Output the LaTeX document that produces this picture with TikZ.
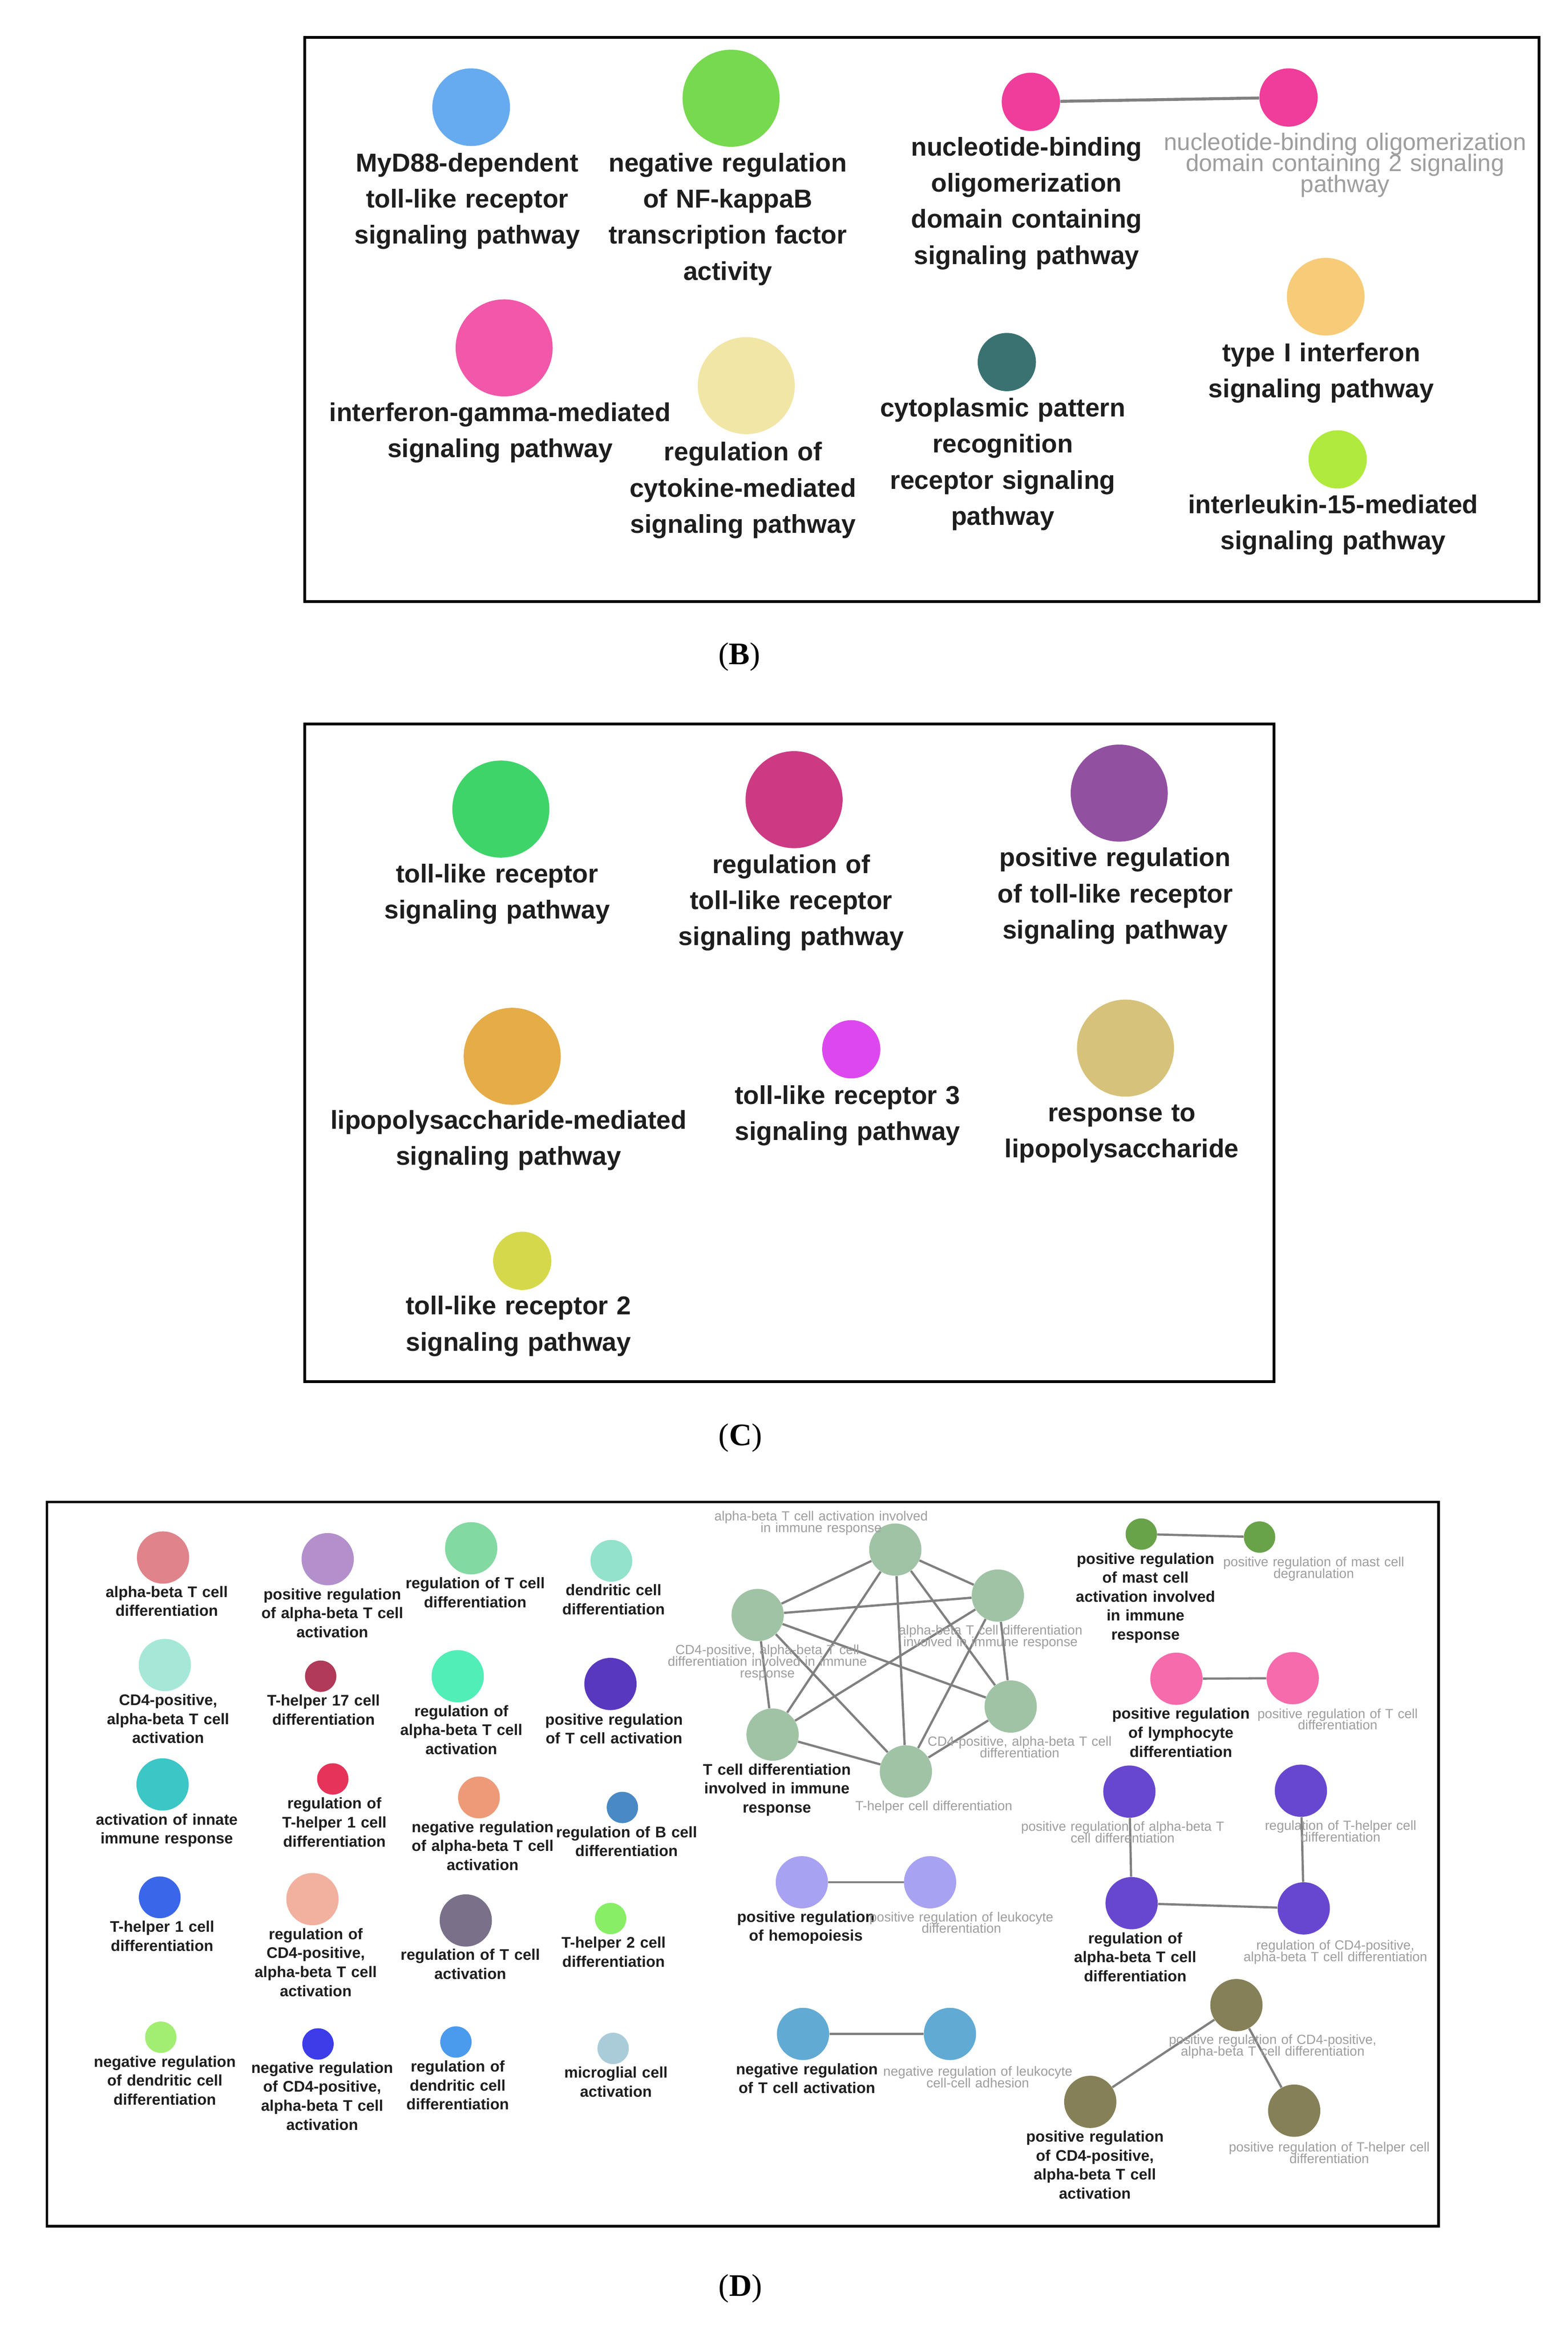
\documentclass[tikz,border=0pt]{standalone}
\usepackage{fontspec}
\setmainfont{Liberation Sans}
\newfontfamily\panelfont{Liberation Serif}
\lineskiplimit=-100pt
% panel B colours
\definecolor{cMyD}{HTML}{66AAF0}
\definecolor{cNFK}{HTML}{77D94F}
\definecolor{cNOD}{HTML}{F03C9A}
\definecolor{cIFG}{HTML}{F257A9}
\definecolor{cCYT}{HTML}{F2E6A6}
\definecolor{cCPR}{HTML}{3A7272}
\definecolor{cIFN}{HTML}{F7CB78}
\definecolor{cIL}{HTML}{B0EA3C}
% panel C colours
\definecolor{cTLR}{HTML}{3ED46A}
\definecolor{cRTLR}{HTML}{CC3A84}
\definecolor{cPTLR}{HTML}{9150A0}
\definecolor{cLPS}{HTML}{E6AC48}
\definecolor{cTLRthree}{HTML}{DD48EE}
\definecolor{cRLPS}{HTML}{D6C27A}
\definecolor{cTLRtwo}{HTML}{D6D84C}
% panel D colours
\definecolor{dAB}{HTML}{E0838B}
\definecolor{dPAB}{HTML}{B390CC}
\definecolor{dRTD}{HTML}{82D9A2}
\definecolor{dDCD}{HTML}{93E2CB}
\definecolor{dCDA}{HTML}{A6E8D8}
\definecolor{dTHS}{HTML}{B03A58}
\definecolor{dRAB}{HTML}{52EEB8}
\definecolor{dPTA}{HTML}{5838BE}
\definecolor{dINN}{HTML}{3CC6C6}
\definecolor{dRTH}{HTML}{E6335A}
\definecolor{dNAB}{HTML}{EE9A78}
\definecolor{dRB}{HTML}{4A8AC4}
\definecolor{dTHO}{HTML}{3A66EA}
\definecolor{dRCD}{HTML}{F2B09E}
\definecolor{dRTA}{HTML}{7A7089}
\definecolor{dTHT}{HTML}{88EE66}
\definecolor{dNDC}{HTML}{A2EE72}
\definecolor{dNCD}{HTML}{3C3CE8}
\definecolor{dRDC}{HTML}{4A9AEE}
\definecolor{dMIC}{HTML}{AACCD8}
\definecolor{dSAGE}{HTML}{A0C3A5}
\definecolor{dMAST}{HTML}{68A249}
\definecolor{dLYM}{HTML}{F56BAB}
\definecolor{dPUR}{HTML}{6747CF}
\definecolor{dHEM}{HTML}{A8A2F2}
\definecolor{dNEGT}{HTML}{61AAD4}
\definecolor{dOLV}{HTML}{858057}
\definecolor{txt}{HTML}{1E1E1E}
\definecolor{gtxt}{HTML}{9E9E9E}
\definecolor{edgec}{HTML}{808080}
\tikzset{
  dot/.style={circle, inner sep=0pt, minimum size=#1, draw=none},
  panelbox/.style={draw=black, line width=1.8pt},
  lbB/.style={font={\bfseries\fontsize{17.3}{24.2}\selectfont\lineskiplimit=-100pt}, text=txt, text width=280pt, align=center, anchor=base, inner sep=0pt},
  glB/.style={font={\fontsize{16}{14}\selectfont\lineskiplimit=-100pt}, text=gtxt, text width=280pt, align=center, anchor=base, inner sep=0pt},
  lbD/.style={font={\bfseries\fontsize{10.3}{12.7}\selectfont\lineskiplimit=-100pt}, text=txt, text width=200pt, align=center, anchor=base, inner sep=0pt},
  glD/.style={font={\fontsize{8.9}{7.8}\selectfont\lineskiplimit=-100pt}, text=gtxt, text width=200pt, align=center, anchor=base, inner sep=0pt},
  plabel/.style={font={\panelfont\fontsize{21}{24}\selectfont}, text=black, anchor=base, inner sep=0pt},
  link/.style={draw=edgec, line width=1.5pt},
  thicklink/.style={draw=edgec, line width=2pt}
}
\begin{document}
\begin{tikzpicture}[x=1pt,y=-1pt]
\fill[white] (0,0) rectangle (1050,1565.3);
\path[use as bounding box] (0,0) rectangle (1050,1565.3);

% ================= Panel B =================
\draw[panelbox] (204,25) rectangle (1031,403);
\node[dot=52pt, fill=cMyD] (myd) at (315.6,71.8) {};
\node[lbB] (myd-l) at (313,115) {MyD88-dependent\\toll-like receptor\\signaling pathway};
\node[dot=65pt, fill=cNFK] (nfk) at (489.7,65.8) {};
\node[lbB] (nfk-l) at (487.5,115) {negative regulation\\of NF-kappaB\\transcription factor\\activity};
\node[dot=39pt, fill=cNOD] (nod) at (690.5,68.2) {};
\node[dot=39pt, fill=cNOD] (nodtwo) at (863.1,65.3) {};
\draw[thicklink] (nod) -- (nodtwo);
\node[lbB] (nod-l) at (687.6,104.3) {nucleotide-binding\\oligomerization\\domain containing\\signaling pathway};
\node[glB] (nodtwo-l) at (901,100.7) {nucleotide-binding oligomerization\\domain containing 2 signaling\\pathway};
\node[dot=65pt, fill=cIFG] (ifg) at (337.7,233) {};
\node[lbB] (ifg-l) at (335,282.2) {interferon-gamma-mediated\\signaling pathway};
\node[dot=65pt, fill=cCYT] (cyt) at (499.9,258.3) {};
\node[lbB] (cyt-l) at (497.7,308.6) {regulation of\\cytokine-mediated\\signaling pathway};
\node[dot=39pt, fill=cCPR] (cpr) at (674.4,242.5) {};
\node[lbB] (cpr-l) at (671.7,279.1) {cytoplasmic pattern\\recognition\\receptor signaling\\pathway};
\node[dot=52pt, fill=cIFN] (ifn) at (888,198.7) {};
\node[lbB] (ifn-l) at (885,242) {type I interferon\\signaling pathway};
\node[dot=39pt, fill=cIL] (il) at (896,307.7) {};
\node[lbB] (il-l) at (893,343.8) {interleukin-15-mediated\\signaling pathway};
\node[plabel] (labB) at (495.2,445) {(\textbf{B})};

% ================= Panel C =================
\draw[panelbox] (204,485) rectangle (853.5,925.5);
\node[dot=65pt, fill=cTLR] (tlr) at (335.5,541.9) {};
\node[lbB] (tlr-l) at (333,591.2) {toll-like receptor\\signaling pathway};
\node[dot=65pt, fill=cRTLR] (rtlr) at (531.9,535.6) {};
\node[lbB] (rtlr-l) at (530,584.8) {regulation of\\toll-like receptor\\signaling pathway};
\node[dot=65pt, fill=cPTLR] (ptlr) at (749.7,531.2) {};
\node[lbB] (ptlr-l) at (747,580.4) {positive regulation\\of toll-like receptor\\signaling pathway};
\node[dot=65pt, fill=cLPS] (lps) at (343.1,707.5) {};
\node[lbB] (lps-l) at (340.7,756.1) {lipopolysaccharide-mediated\\signaling pathway};
\node[dot=39pt, fill=cTLRthree] (tlrthree) at (570.2,702.8) {};
\node[lbB] (tlrthree-l) at (567.7,739.5) {toll-like receptor 3\\signaling pathway};
\node[dot=65pt, fill=cRLPS] (rlps) at (753.9,702) {};
\node[lbB] (rlps-l) at (751.4,751.2) {response to\\lipopolysaccharide};
\node[dot=39pt, fill=cTLRtwo] (tlrtwo) at (349.8,844.5) {};
\node[lbB] (tlrtwo-l) at (347.3,880.6) {toll-like receptor 2\\signaling pathway};
\node[plabel] (labC) at (496,968) {(\textbf{C})};

% ================= Panel D =================
\draw[panelbox] (31.5,1006) rectangle (963.5,1491);
% column 1
\node[dot=35pt, fill=dAB] (ab) at (109.2,1043.2) {};
\node[lbD] (ab-l) at (111.7,1069.8) {alpha-beta T cell\\differentiation};
\node[dot=35pt, fill=dCDA] (cda) at (110.4,1115.2) {};
\node[lbD] (cda-l) at (112.6,1142.2) {CD4-positive,\\alpha-beta T cell\\activation};
\node[dot=35pt, fill=dINN] (inn) at (108.9,1195.2) {};
\node[lbD] (inn-l) at (111.7,1222.3) {activation of innate\\immune response};
\node[dot=28pt, fill=dTHO] (tho) at (107,1270.8) {};
\node[lbD] (tho-l) at (108.6,1294.1) {T-helper 1 cell\\differentiation};
\node[dot=21pt, fill=dNDC] (ndc) at (107.7,1364.5) {};
\node[lbD] (ndc-l) at (110.4,1384.4) {negative regulation\\of dendritic cell\\differentiation};
% column 2
\node[dot=35pt, fill=dPAB] (pab) at (219.5,1044.3) {};
\node[lbD] (pab-l) at (222.6,1071.3) {positive regulation\\of alpha-beta T cell\\activation};
\node[dot=21pt, fill=dTHS] (ths) at (214.8,1122.7) {};
\node[lbD] (ths-l) at (216.7,1142.6) {T-helper 17 cell\\differentiation};
\node[dot=21pt, fill=dRTH] (rth) at (222.9,1191.5) {};
\node[lbD] (rth-l) at (224,1211.5) {regulation of\\T-helper 1 cell\\differentiation};
\node[dot=35pt, fill=dRCD] (rcd) at (209.3,1272) {};
\node[lbD] (rcd-l) at (211.5,1299) {regulation of\\CD4-positive,\\alpha-beta T cell\\activation};
\node[dot=21pt, fill=dNCD] (ncd) at (213,1369) {};
\node[lbD] (ncd-l) at (215.8,1388.5) {negative regulation\\of CD4-positive,\\alpha-beta T cell\\activation};
% column 3
\node[dot=35pt, fill=dRTD] (rtd) at (315.6,1037) {};
\node[lbD] (rtd-l) at (318.3,1064) {regulation of T cell\\differentiation};
\node[dot=35pt, fill=dRAB] (rab) at (306.6,1122.7) {};
\node[lbD] (rab-l) at (309,1149.6) {regulation of\\alpha-beta T cell\\activation};
\node[dot=28pt, fill=dNAB] (nab) at (320.8,1203.9) {};
\node[lbD] (nab-l) at (323.3,1227.2) {negative regulation\\of alpha-beta T cell\\activation};
\node[dot=35pt, fill=dRTA] (rta) at (312,1286.3) {};
\node[lbD] (rta-l) at (315,1312.8) {regulation of T cell\\activation};
\node[dot=21pt, fill=dRDC] (rdc) at (305.4,1367.7) {};
\node[lbD] (rdc-l) at (306.6,1387.6) {regulation of\\dendritic cell\\differentiation};
% column 4
\node[dot=28pt, fill=dDCD] (dcd) at (409.5,1045.4) {};
\node[lbD] (dcd-l) at (411,1068.6) {dendritic cell\\differentiation};
\node[dot=35pt, fill=dPTA] (pta) at (408.9,1127.9) {};
\node[lbD] (pta-l) at (411.3,1155.3) {positive regulation\\of T cell activation};
\node[dot=21pt, fill=dRB] (rb) at (416.9,1210.6) {};
\node[lbD] (rb-l) at (419.7,1230.7) {regulation of B cell\\differentiation};
\node[dot=21pt, fill=dTHT] (tht) at (409,1285) {};
\node[lbD] (tht-l) at (411,1304.7) {T-helper 2 cell\\differentiation};
\node[dot=21pt, fill=dMIC] (mic) at (410.7,1372) {};
\node[lbD] (mic-l) at (412.6,1391.7) {microglial cell\\activation};

% T cell network
\node[dot=35pt, fill=dSAGE] (na) at (599.7,1037.9) {};
\node[dot=35pt, fill=dSAGE] (nb) at (507.5,1081.7) {};
\node[dot=35pt, fill=dSAGE] (nc) at (668.4,1068.7) {};
\node[dot=35pt, fill=dSAGE] (nd) at (677,1143) {};
\node[dot=35pt, fill=dSAGE] (ne) at (606.8,1186.5) {};
\node[dot=35pt, fill=dSAGE] (nf) at (517.5,1161.8) {};
\draw[link] (na) -- (nb);
\draw[link] (na) -- (nc);
\draw[link] (na) -- (nd);
\draw[link] (na) -- (ne);
\draw[link] (na) -- (nf);
\draw[link] (nb) -- (nc);
\draw[link] (nb) -- (nd);
\draw[link] (nb) -- (ne);
\draw[link] (nb) -- (nf);
\draw[link] (nc) -- (nd);
\draw[link] (nc) -- (ne);
\draw[link] (nc) -- (nf);
\draw[link] (nd) -- (ne);
\draw[link] (nf) -- (ne);
\node[glD] (na-l) at (550,1018.4) {alpha-beta T cell activation involved\\in immune response};
\node[glD] (nb-l) at (514,1108) {CD4-positive, alpha-beta T cell\\differentiation involved in immune\\response};
\node[glD] (nc-l) at (663.5,1094.9) {alpha-beta T cell differentiation\\involved in immune response};
\node[glD] (nd-l) at (683,1169.3) {CD4-positive, alpha-beta T cell\\differentiation};
\node[glD] (ne-l) at (625.5,1212.7) {T-helper cell differentiation};
\node[lbD] (nf-l) at (520.4,1188.7) {T cell differentiation\\involved in immune\\response};

% mast cell pair
\node[dot=21pt, fill=dMAST] (mast) at (764.5,1027.5) {};
\node[dot=21pt, fill=dMAST] (masttwo) at (843.7,1029.5) {};
\draw[link] (mast) -- (masttwo);
\node[lbD] (mast-l) at (767.3,1047.5) {positive regulation\\of mast cell\\activation involved\\in immune\\response};
\node[glD] (masttwo-l) at (880,1049.2) {positive regulation of mast cell\\degranulation};

% lymphocyte pair
\node[dot=35pt, fill=dLYM] (lym) at (788,1124.4) {};
\node[dot=35pt, fill=dLYM] (lymtwo) at (865.9,1124) {};
\draw[link] (lym) -- (lymtwo);
\node[lbD] (lym-l) at (791,1151.4) {positive regulation\\of lymphocyte\\differentiation};
\node[glD] (lymtwo-l) at (896,1150.8) {positive regulation of T cell\\differentiation};

% purple square
\node[dot=35pt, fill=dPUR] (pa) at (756.5,1200) {};
\node[dot=35pt, fill=dPUR] (pb) at (871.4,1199.4) {};
\node[dot=35pt, fill=dPUR] (pc) at (758,1274.7) {};
\node[dot=35pt, fill=dPUR] (pd) at (873.3,1278.2) {};
\draw[link] (pa) -- (pc);
\draw[link] (pb) -- (pd);
\draw[link] (pc) -- (pd);
\node[glD] (pa-l) at (752,1226.3) {positive regulation of alpha-beta T\\cell differentiation};
\node[glD] (pb-l) at (898,1225.8) {regulation of T-helper cell\\differentiation};
\node[lbD] (pc-l) at (760.4,1301.7) {regulation of\\alpha-beta T cell\\differentiation};
\node[glD] (pd-l) at (894.5,1306) {regulation of CD4-positive,\\alpha-beta T cell differentiation};

% hemopoiesis pair
\node[dot=35pt, fill=dHEM] (hem) at (537.1,1260.7) {};
\node[dot=35pt, fill=dHEM] (hemtwo) at (623,1260.7) {};
\draw[link] (hem) -- (hemtwo);
\node[lbD] (hem-l) at (539.8,1287.3) {positive regulation\\of hemopoiesis};
\node[glD] (hemtwo-l) at (644,1287) {positive regulation of leukocyte\\differentiation};

% negative regulation of T cell activation pair
\node[dot=35pt, fill=dNEGT] (negt) at (537.9,1362.3) {};
\node[dot=35pt, fill=dNEGT] (negttwo) at (636.3,1362.3) {};
\draw[link] (negt) -- (negttwo);
\node[lbD] (negt-l) at (540.5,1389.4) {negative regulation\\of T cell activation};
\node[glD] (negttwo-l) at (655,1390.4) {negative regulation of leukocyte\\cell-cell adhesion};

% olive triad
\node[dot=35pt, fill=dOLV] (oa) at (828.2,1343) {};
\node[dot=35pt, fill=dOLV] (ob) at (730.3,1407.8) {};
\node[dot=35pt, fill=dOLV] (oc) at (866.9,1413.7) {};
\draw[link] (oa) -- (ob);
\draw[link] (oa) -- (oc);
\node[glD] (oa-l) at (852.5,1369.3) {positive regulation of CD4-positive,\\alpha-beta T cell differentiation};
\node[lbD] (ob-l) at (733.4,1434.6) {positive regulation\\of CD4-positive,\\alpha-beta T cell\\activation};
\node[glD] (oc-l) at (890.4,1441.2) {positive regulation of T-helper cell\\differentiation};

\node[plabel] (labD) at (496,1538) {(\textbf{D})};
\end{tikzpicture}
\end{document}
